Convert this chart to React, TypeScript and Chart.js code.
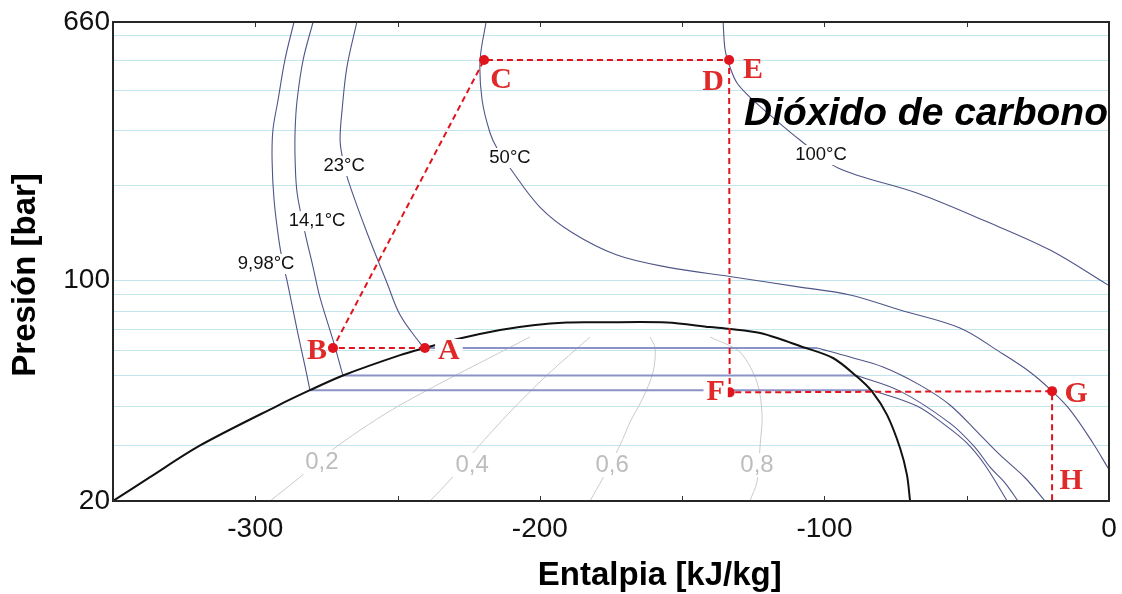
import React, { useEffect, useRef } from 'react';
import { Chart, registerables } from 'chart.js';

Chart.register(...registerables);

// ---------- axes ----------
const xMin = -350;
const xMax = 0;
const yMin = 20;
const yMax = 660;
const xTickValues = [-350, -300, -250, -200, -150, -100, -50, 0];
const xLabelValues = [-300, -200, -100, 0];
const yGridValues = [30, 40, 50, 60, 70, 80, 90, 100, 200, 300, 400, 500, 600];
const yLabelValues = [20, 100, 660];

// ---------- curves: [enthalpy kJ/kg, pressure bar] ----------
const saturationDome = [
  [-350, 20], [-337, 23.8], [-319.4, 30], [-292.4, 40], [-280.8, 44.9], [-269.2, 50],
  [-249.1, 58], [-240.4, 61.1], [-227.4, 65.7], [-214, 69.7], [-202.4, 72.2],
  [-190.5, 73.6], [-178.9, 73.7], [-155.3, 73.6], [-140.2, 71.2], [-133.2, 70.2],
  [-122.6, 68.2], [-114.6, 64.8], [-108.6, 62.0], [-97.0, 56.8], [-88.6, 49.6],
  [-83.3, 44.5], [-78.0, 37.5], [-73.4, 29.4], [-71.0, 24.2], [-69.9, 20],
];

const iso998Liquid = [
  [-286.4, 660], [-289.6, 500], [-292.0, 373.5], [-293.8, 300], [-294.1, 241],
  [-293.4, 180], [-291.7, 134], [-290.3, 113.6], [-288.9, 100.4], [-285.3, 69.7],
  [-282.5, 53.3], [-280.8, 44.9],
];
const iso998Flat = [[-280.8, 44.9], [-83.3, 44.9]];
const iso998Vapor = [
  [-83.3, 44.9], [-67.5, 40], [-57.6, 34.8], [-49.9, 30.5], [-43.6, 26.0], [-35.8, 20],
];

const iso141Liquid = [
  [-279.7, 660], [-283.2, 500], [-285.3, 373.5], [-286.0, 300], [-286.0, 241],
  [-285.3, 189.4], [-282.5, 141.4], [-279.7, 110.3], [-277.3, 88.6], [-272.7, 64.8],
  [-269.2, 50],
];
const iso141Flat = [[-269.2, 50], [-88.6, 50]];
const iso141Vapor = [
  [-88.6, 50], [-73.4, 44.6], [-55.9, 35.3], [-47.1, 29.6], [-41.8, 25.6],
  [-36.5, 22.8], [-32.0, 20],
];

const iso23Liquid = [
  [-264.3, 660], [-267.8, 475], [-269.5, 347], [-270.2, 278.8], [-269.2, 241],
  [-267.4, 208.2], [-260.7, 141.4], [-253.7, 98.2], [-249.1, 77.7], [-242.1, 63.3],
  [-240.4, 61.1],
];
const iso23Flat = [[-240.4, 61.1], [-102.6, 61.1]];
const iso23Vapor = [
  [-102.6, 61.1], [-91.0, 57.2], [-79.4, 53.2], [-66.4, 46.6], [-55.9, 40.3],
  [-45.3, 32.4], [-38.3, 28.0], [-29.5, 23.7], [-22.5, 20],
];

const iso50 = [
  [-218.9, 660], [-221.0, 500], [-220.3, 373.5], [-217.5, 293.5], [-215.1, 263],
  [-210.5, 227.4], [-200.0, 171], [-188.4, 141.4], [-172.9, 120.4], [-155.3, 110.3],
  [-132.1, 102.6], [-108.6, 95.3], [-91.0, 90], [-73.4, 80.6], [-52.4, 70.7],
  [-38.3, 59.3], [-27.8, 51.3], [-20.0, 44.6], [-13.7, 38.9], [-5.6, 30.5], [-0.3, 25.4],
];

const iso100 = [
  [-135.6, 660], [-134.9, 537.9], [-133.2, 475], [-130.7, 422.8], [-126.2, 381.6],
  [-119.1, 334.6], [-108.6, 278.8], [-95.2, 227.4], [-67.5, 189.4], [-44.3, 155.5],
  [-20.7, 124.9], [-0.3, 96.7],
];

const quality02 = [[-203.5, 66.2], [-249.1, 40.3], [-270.9, 30], [-284.3, 23.8], [-294.8, 20]];
const quality04 = [[-182.4, 66.2], [-197.5, 50.1], [-210.5, 38.3], [-222.1, 29.4], [-231.6, 23.3], [-238.6, 20]];
const quality06 = [[-161.3, 66.2], [-159.5, 61.1], [-160.2, 51.3], [-163.8, 42.4], [-168.3, 35.6], [-171.8, 30.1], [-177.8, 23.7], [-182.4, 20]];
const quality08 = [[-140.2, 66.2], [-129.7, 59.3], [-123.7, 47.6], [-121.9, 37.5], [-122.6, 30.1], [-123.7, 23.0], [-126.2, 20]];

// ---------- refrigeration cycle ----------
const cycleNames = ['A', 'B', 'C', 'D', 'F', 'G', 'H'];
const cycleEnthalpy = [-240.4, -272.7, -219.6, -133.5, -133.3, -20.0, -20.0];
const cyclePressure = [61.1, 61.1, 500, 500, 44.2, 44.6, 20];

// ---------- text annotations (anchored in data units) ----------
const isothermLabelText = ['9,98°C', '14,1°C', '23°C', '50°C', '100°C'];
const isothermLabelH = [-296.2, -278.3, -268.8, -210.5, -101.2];
const isothermLabelP = [112.8, 154.3, 230.7, 244.5, 249.9];

const qualityLabelText = ['0,2', '0,4', '0,6', '0,8'];
const qualityLabelH = [-276.6, -223.8, -174.6, -123.7];
const qualityLabelP = [26.6, 26.0, 26.0, 26.0];

const chartTitle = 'Dióxido de carbono';
const xTitle = 'Entalpia [kJ/kg]';
const yTitle = 'Presión [bar]';

// letter placement relative to points (pixels) – styling only
const letterStyle: Record<string, { dx: number; dy: number; bg: boolean; at: number }> = {
  A: { dx: 24, dy: 3, bg: true, at: 0 },
  B: { dx: -16, dy: 3, bg: false, at: 1 },
  C: { dx: 17, dy: 20, bg: false, at: 2 },
  D: { dx: -16, dy: 22, bg: false, at: 3 },
  E: { dx: 24, dy: 10, bg: false, at: 3 },
  F: { dx: -14, dy: 0, bg: true, at: 4 },
  G: { dx: 24, dy: 3, bg: false, at: 5 },
  H: { dx: 19, dy: -20, bg: false, at: 6 },
};

const SANS = '"Liberation Sans", Arial, sans-serif';
const SERIF = '"Liberation Serif", "Times New Roman", serif';

const toXY = (arr: number[][]) => arr.map(([x, y]) => ({ x, y }));

const ISO_COLOR = '#4f5688';
const FLAT_COLOR = '#8b93c6';
const QUAL_COLOR = '#cacaca';
const RED = '#e0141c';

function curve(data: number[][], color: string, width: number, order: number, tension = 0.35) {
  return {
    data: toXY(data),
    showLine: true,
    borderColor: color,
    borderWidth: width,
    pointRadius: 0,
    tension,
    order,
    fill: false,
  };
}

const annotationPlugin = {
  id: 'co2Annotations',
  afterDatasetsDraw(chart: any) {
    const { ctx, scales } = chart;
    const x = scales.x;
    const y = scales.y;
    ctx.save();
    // isotherm labels (white box interrupts lines)
    ctx.font = `18.5px ${SANS}`;
    ctx.textAlign = 'center';
    ctx.textBaseline = 'middle';
    isothermLabelText.forEach((t, i) => {
      const px = x.getPixelForValue(isothermLabelH[i]);
      const py = y.getPixelForValue(isothermLabelP[i]);
      const w = ctx.measureText(t).width;
      ctx.fillStyle = '#ffffff';
      ctx.fillRect(px - w / 2 - 3, py - 10, w + 6, 20);
      ctx.fillStyle = '#111111';
      ctx.fillText(t, px, py);
    });
    // quality labels
    ctx.font = `24px ${SANS}`;
    qualityLabelText.forEach((t, i) => {
      const px = x.getPixelForValue(qualityLabelH[i]);
      const py = y.getPixelForValue(qualityLabelP[i]);
      const w = ctx.measureText(t).width;
      ctx.fillStyle = '#ffffff';
      ctx.fillRect(px - w / 2 - 3, py - 12, w + 6, 24);
      ctx.fillStyle = '#bdbdbd';
      ctx.fillText(t, px, py);
    });
    // cycle letters
    ctx.font = `bold 30px ${SERIF}`;
    Object.keys(letterStyle).forEach((name) => {
      const s = letterStyle[name];
      const px = x.getPixelForValue(cycleEnthalpy[s.at]) + s.dx;
      const py = y.getPixelForValue(cyclePressure[s.at]) + s.dy;
      const w = ctx.measureText(name).width;
      if (s.bg) {
        ctx.fillStyle = '#ffffff';
        ctx.fillRect(px - w / 2 - 3, py - 12, w + 6, 24);
      }
      ctx.fillStyle = '#e02a2a';
      ctx.fillText(name, px, py);
    });
    // substance name
    ctx.font = `italic bold 39px ${SANS}`;
    ctx.textAlign = 'right';
    ctx.textBaseline = 'alphabetic';
    ctx.fillStyle = '#000000';
    ctx.fillText(chartTitle, chart.chartArea.right - 1, chart.chartArea.top + 103);
    ctx.restore();
  },
  afterDraw(chart: any) {
    const { ctx, chartArea: a, scales } = chart;
    const x = scales.x;
    ctx.save();
    // inward ticks top and bottom
    ctx.strokeStyle = '#333333';
    ctx.lineWidth = 1;
    xTickValues.forEach((v) => {
      const px = Math.round(x.getPixelForValue(v)) + 0.5;
      ctx.beginPath();
      ctx.moveTo(px, a.bottom);
      ctx.lineTo(px, a.bottom - 5);
      ctx.moveTo(px, a.top);
      ctx.lineTo(px, a.top + 5);
      ctx.stroke();
    });
    // frame
    ctx.strokeStyle = '#262626';
    ctx.lineWidth = 2;
    ctx.strokeRect(a.left, a.top, a.right - a.left, a.bottom - a.top);
    // axis titles
    ctx.fillStyle = '#000000';
    ctx.font = `bold 33px ${SANS}`;
    ctx.textAlign = 'center';
    ctx.textBaseline = 'middle';
    ctx.fillText(xTitle, a.left + (a.right - a.left) * 0.549, a.bottom + 75);
    ctx.translate(26, a.top + (a.bottom - a.top) * 0.528);
    ctx.rotate(-Math.PI / 2);
    ctx.fillText(yTitle, 0, 0);
    ctx.restore();
  },
};

export default function App() {
  const ref = useRef<HTMLCanvasElement>(null);

  useEffect(() => {
    if (!ref.current) return;
    const cycleData = cycleEnthalpy.map((h, i) => ({ x: h, y: cyclePressure[i], name: cycleNames[i] }));
    const chart = new Chart(ref.current, {
      type: 'scatter',
      data: {
        datasets: [
          {
            data: cycleData,
            showLine: true,
            borderColor: RED,
            borderWidth: 2,
            borderDash: [6, 4],
            pointRadius: (c: any) => (c.dataIndex === cycleNames.length - 1 ? 0 : 5),
            pointBackgroundColor: RED,
            pointBorderWidth: 0,
            tension: 0,
            order: 0,
          } as any,
          curve(saturationDome, '#111111', 2, 1, 0.3),
          curve(iso998Liquid, ISO_COLOR, 1.1, 3),
          curve(iso998Flat, FLAT_COLOR, 2, 3, 0),
          curve(iso998Vapor, ISO_COLOR, 1.1, 3),
          curve(iso141Liquid, ISO_COLOR, 1.1, 3),
          curve(iso141Flat, FLAT_COLOR, 2, 3, 0),
          curve(iso141Vapor, ISO_COLOR, 1.1, 3),
          curve(iso23Liquid, ISO_COLOR, 1.1, 3),
          curve(iso23Flat, FLAT_COLOR, 2, 3, 0),
          curve(iso23Vapor, ISO_COLOR, 1.1, 3),
          curve(iso50, ISO_COLOR, 1.1, 3),
          curve(iso100, ISO_COLOR, 1.1, 3),
          curve(quality02, QUAL_COLOR, 1, 4, 0.3),
          curve(quality04, QUAL_COLOR, 1, 4, 0.3),
          curve(quality06, QUAL_COLOR, 1, 4, 0.3),
          curve(quality08, QUAL_COLOR, 1, 4, 0.3),
        ],
      },
      options: {
        responsive: false,
        devicePixelRatio: 1,
        animation: false,
        events: [],
        layout: { padding: { left: 0, right: 13, top: 22, bottom: 0 } },
        plugins: { legend: { display: false }, tooltip: { enabled: false } },
        scales: {
          x: {
            type: 'linear',
            position: 'bottom',
            min: xMin,
            max: xMax,
            afterFit: (s: any) => {
              s.height = 93;
              s.paddingLeft = 0;
              s.paddingRight = 0;
            },
            afterBuildTicks: (s: any) => { s.ticks = xTickValues.map((v) => ({ value: v })); },
            ticks: {
              autoSkip: false,
              maxRotation: 0,
              padding: 11,
              color: '#111111',
              font: { family: SANS, size: 28 },
              callback: (v: any) => (xLabelValues.includes(Number(v)) ? String(v) : ''),
            },
            grid: { drawOnChartArea: false, drawTicks: false },
            border: { display: false },
          },
          y: {
            type: 'logarithmic',
            min: yMin,
            max: yMax,
            afterFit: (s: any) => {
              s.width = 113;
              s.paddingTop = 0;
              s.paddingBottom = 0;
            },
            afterBuildTicks: (s: any) => {
              s.ticks = [yMin, ...yGridValues, yMax].map((v) => ({ value: v }));
            },
            ticks: {
              autoSkip: false,
              padding: 3,
              color: '#111111',
              font: { family: SANS, size: 28 },
              callback: (v: any) => (yLabelValues.includes(Number(v)) ? String(v) : ''),
            },
            grid: { color: '#c3e6ee', lineWidth: 1, drawTicks: false },
            border: { display: false },
          },
        },
      },
      plugins: [annotationPlugin],
    } as any);
    return () => chart.destroy();
  }, []);

  return (
    <div style={{ position: 'absolute', left: 0, top: 0, width: 1122, height: 594, background: '#fff' }}>
      <canvas ref={ref} width={1122} height={594} style={{ display: 'block' }} />
    </div>
  );
}
